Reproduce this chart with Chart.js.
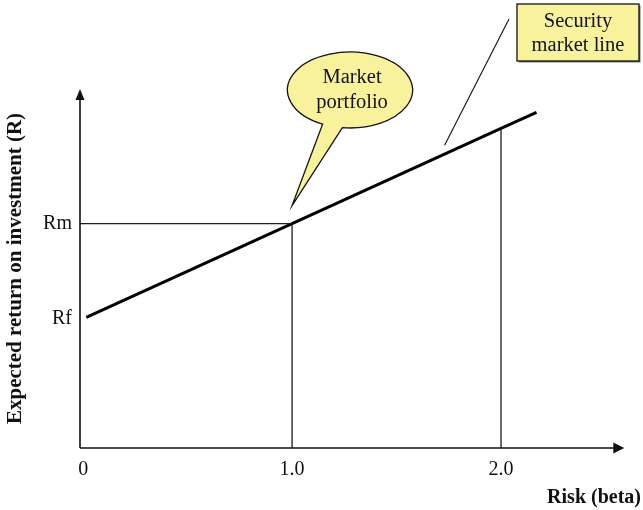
<!DOCTYPE html>
<html>
<head>
<meta charset="utf-8">
<script src="https://cdn.jsdelivr.net/npm/chart.js@4/dist/chart.umd.min.js"></script>
<style>
  html, body { margin: 0; padding: 0; background: #ffffff; }
  #wrap { width: 643px; height: 510px; }
</style>
</head>
<body>
<div id="wrap"><canvas id="sml" width="643" height="510"></canvas></div>
<script>
// Beta axis
const betaTicks = [0, 1, 2];
const betaLabels = ['0', '1.0', '2.0'];
const betaMin = -0.015;
const betaMax = 2.67;
const betaAxisEnd = 2.59;

// Return axis
const returnTicks = [3.6, 6.25];
const returnLabels = ['Rf', 'Rm'];
const returnMin = 0;
const returnMax = 10;

// Security market line
const smlBeta = [0.015, 1, 2, 2.17];
const smlReturn = [3.64, 6.25, 8.9, 9.35];

// Reference levels for the market portfolio and beta = 2
const marketBeta = 1;
const marketReturn = 6.25;
const highBeta = 2;
const highReturn = 8.9;

// Point on the line the "Security market line" label points at
const smlNoteBeta = 1.73;
const smlNoteReturn = 8.18;

const SERIF = "'Liberation Serif', 'Times New Roman', serif";
const INK = '#111111';
const NOTE_FILL = '#f9f29c';

const toXY = (xs, ys) => xs.map((x, i) => ({ x: x, y: ys[i] }));

const guideStyle = {
  borderColor: '#1a1a1a',
  borderWidth: 1.3,
  pointRadius: 0,
  fill: false,
  tension: 0
};

const notes = {
  id: 'notes',
  afterDraw(chart) {
    const { ctx, chartArea, scales } = chart;
    const xs = scales.x, ys = scales.y;
    ctx.save();

    // Axes with arrow heads
    const x0 = chartArea.left, y0 = chartArea.bottom;
    const yTop = chartArea.top;
    const xEnd = xs.getPixelForValue(betaAxisEnd);
    ctx.strokeStyle = INK;
    ctx.fillStyle = INK;
    ctx.lineWidth = 1.6;
    ctx.beginPath();
    ctx.moveTo(x0, y0);
    ctx.lineTo(x0, yTop + 6);
    ctx.moveTo(x0, y0);
    ctx.lineTo(xEnd - 6, y0);
    ctx.stroke();
    ctx.beginPath();
    ctx.moveTo(x0, yTop);
    ctx.lineTo(x0 - 4.5, yTop + 11);
    ctx.lineTo(x0 + 4.5, yTop + 11);
    ctx.closePath();
    ctx.fill();
    ctx.beginPath();
    ctx.moveTo(xEnd, y0);
    ctx.lineTo(xEnd - 11, y0 - 5.5);
    ctx.lineTo(xEnd - 11, y0 + 5.5);
    ctx.closePath();
    ctx.fill();

    // "Market portfolio" speech bubble
    const tipX = xs.getPixelForValue(marketBeta);
    const tipY = ys.getPixelForValue(marketReturn) - 18;
    const cx = 350, cy = 90, rx = 62.5, ry = 38;
    const a1 = 116 * Math.PI / 180;
    const a2 = 97 * Math.PI / 180;
    ctx.beginPath();
    ctx.ellipse(cx, cy, rx, ry, 0, a1, a2 + 2 * Math.PI, false);
    ctx.lineTo(tipX, tipY);
    ctx.closePath();
    ctx.fillStyle = NOTE_FILL;
    ctx.fill();
    ctx.strokeStyle = INK;
    ctx.lineWidth = 1.3;
    ctx.stroke();

    ctx.fillStyle = INK;
    ctx.font = '20.5px ' + SERIF;
    ctx.textAlign = 'center';
    ctx.textBaseline = 'alphabetic';
    ctx.fillText('Market', 352, 83);
    ctx.fillText('portfolio', 352, 108);

    // "Security market line" box and its leader
    const lx = xs.getPixelForValue(smlNoteBeta);
    const ly = ys.getPixelForValue(smlNoteReturn) - 9;
    ctx.beginPath();
    ctx.moveTo(509, 19);
    ctx.lineTo(lx, ly);
    ctx.lineWidth = 1.1;
    ctx.strokeStyle = INK;
    ctx.stroke();

    ctx.save();
    ctx.shadowColor = 'rgba(0,0,0,0.55)';
    ctx.shadowOffsetX = 1.5;
    ctx.shadowOffsetY = 1.5;
    ctx.shadowBlur = 0;
    ctx.fillStyle = NOTE_FILL;
    ctx.fillRect(517, 4, 122, 57);
    ctx.restore();
    ctx.strokeStyle = INK;
    ctx.lineWidth = 1.3;
    ctx.strokeRect(517, 4, 122, 57);

    ctx.fillStyle = INK;
    ctx.fillText('Security', 578, 27);
    ctx.fillText('market line', 578, 51);

    ctx.restore();
  }
};

new Chart(document.getElementById('sml'), {
  type: 'line',
  data: {
    datasets: [
      Object.assign({ data: [{ x: betaMin, y: marketReturn }, { x: marketBeta, y: marketReturn }] }, guideStyle),
      Object.assign({ data: [{ x: marketBeta, y: returnMin }, { x: marketBeta, y: marketReturn }] }, guideStyle),
      Object.assign({ data: [{ x: highBeta, y: returnMin }, { x: highBeta, y: highReturn }] }, guideStyle),
      {
        label: 'Security market line',
        data: toXY(smlBeta, smlReturn),
        borderColor: '#000000',
        borderWidth: 3,
        pointRadius: 0,
        fill: false,
        tension: 0
      }
    ]
  },
  options: {
    responsive: false,
    animation: false,
    devicePixelRatio: 1,
    layout: { padding: { top: 89, right: 2, left: 0, bottom: 0 } },
    plugins: { legend: { display: false }, tooltip: { enabled: false } },
    scales: {
      x: {
        type: 'linear',
        min: betaMin,
        max: betaMax,
        border: { display: false },
        grid: { display: false, drawTicks: false },
        ticks: {
          color: INK,
          font: { family: SERIF, size: 20 },
          padding: 10,
          autoSkip: false,
          maxRotation: 0,
          callback: (v) => {
            const i = betaTicks.indexOf(v);
            return i >= 0 ? betaLabels[i] : '';
          }
        },
        afterBuildTicks: (s) => { s.ticks = betaTicks.map(v => ({ value: v })); },
        afterFit: (s) => { s.height = 62; },
        title: {
          display: true,
          text: 'Risk (beta)',
          align: 'end',
          color: INK,
          font: { family: SERIF, size: 20, weight: 'bold' },
          padding: { top: 0, bottom: 0 }
        }
      },
      y: {
        type: 'linear',
        min: returnMin,
        max: returnMax,
        border: { display: false },
        grid: { display: false, drawTicks: false },
        ticks: {
          color: INK,
          font: { family: SERIF, size: 20 },
          padding: 8,
          autoSkip: false,
          callback: (v) => {
            const i = returnTicks.indexOf(v);
            return i >= 0 ? returnLabels[i] : '';
          }
        },
        afterBuildTicks: (s) => { s.ticks = returnTicks.map(v => ({ value: v })); },
        afterFit: (s) => { s.width = 80; },
        title: {
          display: true,
          text: 'Expected return on investment (R)',
          color: INK,
          font: { family: SERIF, size: 21, weight: 'bold' },
          padding: { top: 3, bottom: 4 }
        }
      }
    }
  },
  plugins: [notes]
});
</script>
</body>
</html>
